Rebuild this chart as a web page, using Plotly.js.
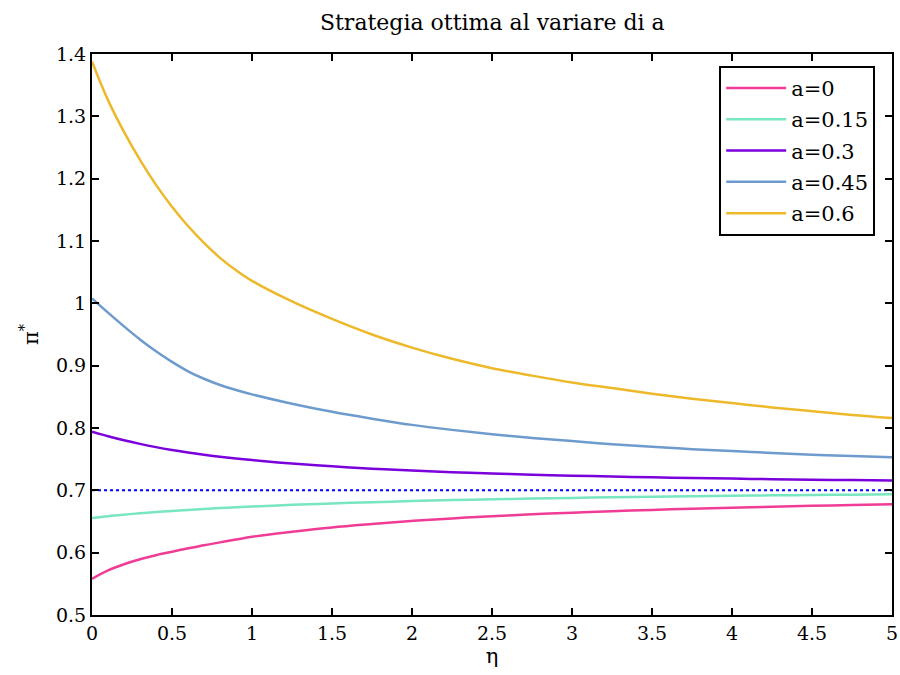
<!DOCTYPE html>
<html><head><meta charset="utf-8">
<script src="https://cdn.plot.ly/plotly-3.0.1.min.js"></script>
<style>body{margin:0;background:#fff}#c{width:900px;height:675px}</style>
</head><body><div id="c"></div>
<script>
const eta  = [0, 0.1, 0.2, 0.3, 0.4, 0.5, 0.6, 0.7, 0.8, 0.9, 1, 1.25, 1.5, 1.75, 2, 2.25, 2.5, 2.75, 3, 3.25, 3.5, 3.75, 4, 4.25, 4.5, 4.75, 5];
const a0   = [0.558, 0.5715, 0.5815, 0.5895, 0.596, 0.6015, 0.607, 0.6118, 0.6165, 0.621, 0.6255, 0.6335, 0.6405, 0.646, 0.651, 0.655, 0.6585, 0.6615, 0.6642, 0.6665, 0.6686, 0.6705, 0.6722, 0.6737, 0.6751, 0.6764, 0.6776];
const a015 = [0.6555, 0.6585, 0.661, 0.6632, 0.6652, 0.667, 0.6686, 0.6701, 0.6715, 0.6728, 0.674, 0.6767, 0.679, 0.681, 0.6828, 0.6843, 0.6856, 0.6868, 0.6879, 0.6889, 0.6898, 0.6906, 0.6913, 0.692, 0.6926, 0.6931, 0.6936];
const a03  = [0.794, 0.7868, 0.7803, 0.7745, 0.7693, 0.7647, 0.7606, 0.757, 0.7538, 0.751, 0.7485, 0.743, 0.7385, 0.7348, 0.7318, 0.7292, 0.727, 0.7251, 0.7235, 0.7221, 0.7209, 0.7198, 0.7188, 0.7179, 0.7171, 0.7164, 0.7158];
const a045 = [1.008, 0.985, 0.963, 0.942, 0.923, 0.906, 0.891, 0.879, 0.869, 0.861, 0.854, 0.839, 0.826, 0.815, 0.805, 0.797, 0.790, 0.784, 0.779, 0.774, 0.770, 0.766, 0.763, 0.760, 0.757, 0.755, 0.753];
const a06  = [1.388, 1.326, 1.275, 1.230, 1.190, 1.155, 1.124, 1.097, 1.073, 1.053, 1.036, 1.003, 0.975, 0.950, 0.929, 0.911, 0.896, 0.884, 0.873, 0.864, 0.855, 0.847, 0.840, 0.833, 0.827, 0.821, 0.816];
const names = ['a=0', 'a=0.15', 'a=0.3', 'a=0.45', 'a=0.6'];
const colors = ['#f03c96', '#78e6be', '#7a00dc', '#6e9bcd', '#edb92a'];
const refX = [0, 5];
const refY = [0.7, 0.7];
const series = [a0, a015, a03, a045, a06];
const font = 'DejaVu Serif';
const traces = series.map((s, i) => ({
  x: eta, y: s, type: 'scatter', mode: 'lines', name: names[i], legendgroup: 'g' + i,
  line: {color: colors[i], width: 2.5, shape: 'spline', smoothing: 1}
}));
traces.push({x: refX, y: refY, type: 'scatter', mode: 'lines', showlegend: false,
  line: {color: '#0000ff', width: 2, dash: 'dot'}});
const axisBase = {showgrid: false, zeroline: false, showline: true, linecolor: '#000', linewidth: 2,
  mirror: 'ticks', ticks: 'inside', ticklen: 7, tickwidth: 2, tickcolor: '#000',
  tickfont: {family: font, size: 19, color: '#000'}};
const layout = {
  width: 900, height: 675,
  font: {family: font, color: '#000'},
  margin: {l: 92, r: 8, t: 54, b: 60},
  paper_bgcolor: '#fff', plot_bgcolor: '#fff',
  title: {text: 'Strategia ottima al variare di a', font: {family: font, size: 22, color: '#000'}, x: 0.547, xanchor: 'center', y: 0.967, yanchor: 'middle'},
  xaxis: Object.assign({}, axisBase, {range: [0, 5], dtick: 0.5, title: {text: 'η', font: {family: font, size: 21, color: '#000'}, standoff: 4}}),
  yaxis: Object.assign({}, axisBase, {range: [0.5, 1.4], dtick: 0.1, title: {text: 'π<sup>*</sup>', font: {family: font, size: 21, color: '#000'}, standoff: 12}}),
  legend: {x: 0.784, y: 0.979, xanchor: 'left', yanchor: 'top', bgcolor: '#fff', bordercolor: '#000', borderwidth: 2,
    font: {family: font, size: 21, color: '#000'}, tracegroupgap: 1, itemwidth: 60},
  showlegend: true
};
Plotly.newPlot('c', traces, layout, {displayModeBar: false, staticPlot: true});
</script></body></html>
